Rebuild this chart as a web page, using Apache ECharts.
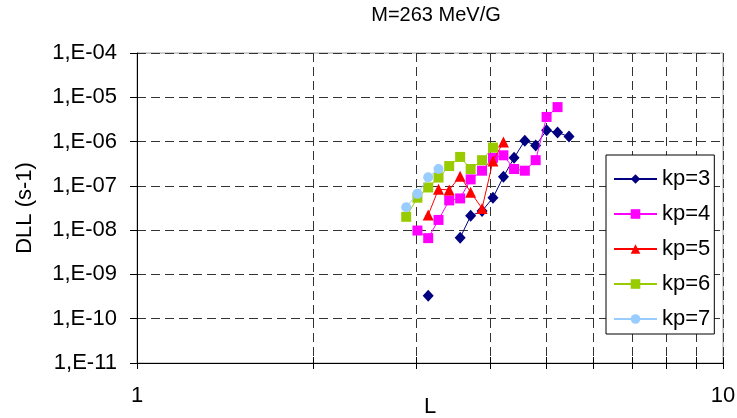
<!DOCTYPE html>
<html>
<head>
<meta charset="utf-8">
<script src="https://cdn.jsdelivr.net/npm/echarts@6/dist/echarts.min.js"></script>
<style>
  html, body { margin: 0; padding: 0; background: #fff; }
  #chart { width: 737px; height: 418px; }
</style>
</head>
<body>
<div id="chart"></div>
<script>
// Radial diffusion coefficient DLL versus L shell, one series per Kp level
const L3 = [3.14, 3.27, 3.41, 3.56, 3.71, 3.88, 4.05, 4.22, 4.40, 4.59, 4.79, 5.00, 5.22, 5.46];
const kp3 = [3.3e-10, null, null, 6.7e-9, 2.1e-8, 2.7e-8, 5.4e-8, 1.6e-7, 4.3e-7, 1.05e-6, 8.1e-7, 1.8e-6, 1.6e-6, 1.3e-6];

const L4 = [3.01, 3.14, 3.27, 3.41, 3.56, 3.71, 3.88, 4.05, 4.22, 4.40, 4.59, 4.79, 5.00, 5.22];
const kp4 = [9.8e-9, 6.6e-9, 1.7e-8, 4.7e-8, 5.2e-8, 1.4e-7, 2.2e-7, 4.3e-7, 4.9e-7, 2.4e-7, 2.2e-7, 3.8e-7, 3.6e-6, 6.0e-6];

const L5 = [3.14, 3.27, 3.41, 3.56, 3.71, 3.88, 4.05, 4.22];
const kp5 = [2.2e-8, 8.4e-8, 8.1e-8, 1.65e-7, 7.2e-8, 3.1e-8, 3.65e-7, 9.8e-7];

const L6 = [2.88, 3.01, 3.14, 3.27, 3.41, 3.56, 3.71, 3.88, 4.05];
const kp6 = [2.0e-8, 5.4e-8, 9.2e-8, 1.54e-7, 2.8e-7, 4.5e-7, 2.4e-7, 3.8e-7, 7.3e-7];

const L7 = [2.88, 3.01, 3.14, 3.27];
const kp7 = [3.3e-8, 6.6e-8, 1.56e-7, 2.4e-7];

const seriesNames = ['kp=3', 'kp=4', 'kp=5', 'kp=6', 'kp=7'];

// Axis ticks and labels
const xTickValues = [1, 2, 3, 4, 5, 6, 7, 8, 9, 10];
const xLabelValues = [1, 10];
const xTickLabels = ['1', '10'];
const yTickValues = [1e-11, 1e-10, 1e-9, 1e-8, 1e-7, 1e-6, 1e-5, 1e-4];
const yTickLabels = ['1,E-11', '1,E-10', '1,E-09', '1,E-08', '1,E-07', '1,E-06', '1,E-05', '1,E-04'];

const FONT = '"Liberation Sans", Arial, sans-serif';

function pairs(xs, ys) {
  return xs.map((x, i) => [x, ys[i] == null ? '-' : ys[i]]);
}
function labelFor(values, labels, v) {
  for (let i = 0; i < values.length; i++) {
    if (Math.abs(Math.log10(v) - Math.log10(values[i])) < 1e-6) return labels[i];
  }
  return '';
}

const styles = [
  { color: '#000080', symbol: 'diamond', size: [11, 12] },
  { color: '#FF00FF', symbol: 'rect', size: 10 },
  { color: '#FF0000', symbol: 'triangle', size: 11 },
  { color: '#99CC00', symbol: 'rect', size: 10 },
  { color: '#99CCFF', symbol: 'circle', size: 10 }
];
const dataSets = [pairs(L3, kp3), pairs(L4, kp4), pairs(L5, kp5), pairs(L6, kp6), pairs(L7, kp7)];

const chart = echarts.init(document.getElementById('chart'), null, { renderer: 'canvas' });

chart.setOption({
  animation: false,
  backgroundColor: '#fff',
  textStyle: { fontFamily: FONT },
  title: {
    text: 'M=263 MeV/G',
    left: 431,
    top: 0,
    textAlign: 'center',
    textStyle: { fontFamily: FONT, fontSize: 20, fontWeight: 'normal', color: '#000' }
  },
  grid: {
    left: 137, top: 53, width: 586, height: 310,
    containLabel: false,
    outerBoundsMode: 'none',
    show: true, borderColor: '#a0a0a0', borderWidth: 1, backgroundColor: 'transparent'
  },
  legend: {
    orient: 'vertical',
    left: 606, top: 155,
    width: 110,
    padding: [11, 4, 2, 7],
    itemGap: 9,
    itemWidth: 43,
    itemHeight: 12,
    backgroundColor: '#fff',
    borderColor: '#000',
    borderWidth: 1,
    borderRadius: 0,
    textStyle: { fontFamily: FONT, fontSize: 22, color: '#000', lineHeight: 26 },
    data: seriesNames
  },
  xAxis: [
    {
      type: 'log', logBase: 10, min: 1, max: 10,
      name: 'L', nameLocation: 'middle', nameGap: 33, nameMoveOverlap: false,
      nameTextStyle: { fontFamily: FONT, fontSize: 22, color: '#000' },
      axisLine: { show: true, onZero: false, lineStyle: { color: '#000', width: 1 } },
      axisTick: { show: true, inside: false, length: 6, customValues: xTickValues, lineStyle: { color: '#000' } },
      axisLabel: {
        show: true, margin: 22, customValues: xLabelValues,
        fontFamily: FONT, fontSize: 22, color: '#000',
        formatter: v => labelFor(xLabelValues, xTickLabels, v)
      },
      splitLine: { show: true, lineStyle: { color: '#333', type: [9, 5], width: 1 } },
      minorTick: { show: false }, minorSplitLine: { show: false }
    },
    {
      type: 'log', logBase: 10, min: 1, max: 10, position: 'bottom',
      axisLine: { show: false },
      axisTick: { show: true, inside: true, length: 6, customValues: xTickValues, lineStyle: { color: '#000' } },
      axisLabel: { show: false },
      splitLine: { show: false }
    }
  ],
  yAxis: {
    type: 'log', logBase: 10, min: 1e-11, max: 1e-4,
    name: 'DLL (s-1)', nameLocation: 'middle', nameGap: 101, nameMoveOverlap: false,
    nameTextStyle: { fontFamily: FONT, fontSize: 22, color: '#000' },
    axisLine: { show: true, onZero: false, lineStyle: { color: '#000', width: 1 } },
    axisTick: { show: true, inside: false, length: 7, customValues: yTickValues, lineStyle: { color: '#000' } },
    axisLabel: {
      show: true, margin: 20, customValues: yTickValues,
      fontFamily: FONT, fontSize: 22, color: '#000',
      formatter: v => labelFor(yTickValues, yTickLabels, v)
    },
    splitLine: { show: true, lineStyle: { color: '#333', type: [9, 5], width: 1 } }
  },
  series: seriesNames.map((name, i) => ({
    name: name,
    type: 'line',
    xAxisIndex: 0,
    data: dataSets[i],
    symbol: styles[i].symbol,
    symbolSize: styles[i].size,
    showSymbol: true,
    showAllSymbol: true,
    connectNulls: false,
    lineStyle: { color: styles[i].color, width: 1 },
    itemStyle: { color: styles[i].color, borderWidth: 0 },
    z: 3 + i
  }))
});
</script>
</body>
</html>
